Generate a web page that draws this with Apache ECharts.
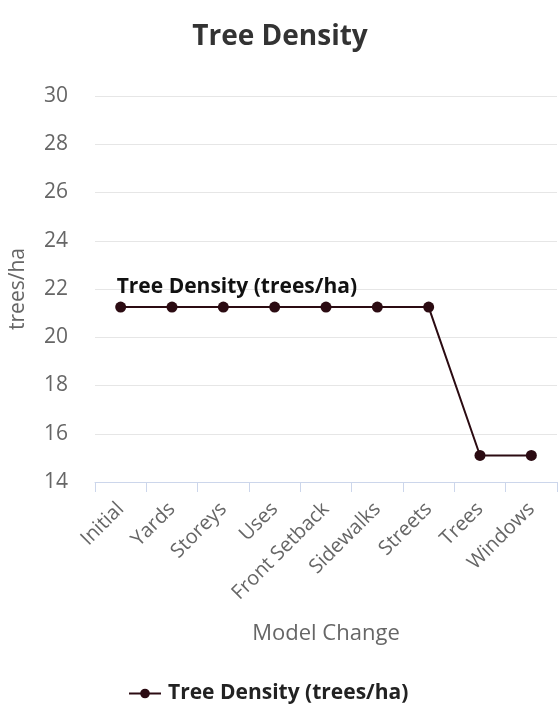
<!DOCTYPE html>
<html>
<head>
<meta charset="utf-8">
<script src="https://cdn.jsdelivr.net/npm/echarts@6/dist/echarts.min.js"></script>
<style>
  html, body { margin: 0; padding: 0; background: #fff; }
  #chart { width: 560px; height: 712px; }
</style>
</head>
<body>
<div id="chart"></div>
<script>
// Model changes along the x axis
const categories = ['Initial', 'Yards', 'Storeys', 'Uses', 'Front Setback', 'Sidewalks', 'Streets', 'Trees', 'Windows'];
// Tree density after each change (trees/ha)
const treeDensity = [21.25, 21.25, 21.25, 21.25, 21.25, 21.25, 21.25, 15.1, 15.1];
const seriesName = 'Tree Density (trees/ha)';
const yMin = 14, yMax = 30, yStep = 2;

const FONT = '"Open Sans", "Noto Sans", sans-serif';
const LINE = '#2b0b12';

const chart = echarts.init(document.getElementById('chart'), null, { renderer: 'canvas' });

// The series name is written once, above the first point
const seriesData = treeDensity.map((v, i) => i === 0 ? {
  value: v,
  label: {
    show: true,
    formatter: seriesName,
    position: 'top',
    align: 'left',
    offset: [-4, 1],
    fontFamily: FONT,
    fontSize: 21,
    fontWeight: 'bold',
    color: '#111'
  }
} : v);

chart.setOption({
  animation: false,
  title: {
    text: 'Tree Density',
    left: 'center',
    top: 18,
    textStyle: { fontFamily: FONT, fontSize: 28, fontWeight: 'bold', color: '#333' }
  },
  legend: {
    bottom: 8,
    left: 128,
    padding: 0,
    itemWidth: 32,
    itemHeight: 12,
    textStyle: { fontFamily: FONT, fontSize: 21, fontWeight: 'bold', color: '#222', padding: [0, 0, 0, 2] },
    data: [seriesName]
  },
  grid: { left: 93, right: 3, top: 96, bottom: 230 },
  xAxis: {
    type: 'category',
    data: categories,
    boundaryGap: true,
    name: 'Model Change',
    nameLocation: 'middle',
    nameGap: 141,
    nameTextStyle: { fontFamily: FONT, fontSize: 22, color: '#666' },
    axisLine: { lineStyle: { color: '#ccd6eb', width: 1 } },
    axisTick: { show: true, length: 10, lineStyle: { color: '#ccd6eb' } },
    axisLabel: { rotate: 45, margin: 24, fontFamily: FONT, fontSize: 20, color: '#666', interval: 0 }
  },
  yAxis: {
    type: 'value',
    min: yMin,
    max: yMax,
    interval: yStep,
    name: 'trees/ha',
    nameLocation: 'middle',
    nameGap: 66,
    nameRotate: 90,
    nameTextStyle: { fontFamily: FONT, fontSize: 21, color: '#666' },
    axisLine: { show: false },
    axisTick: { show: false },
    axisLabel: { margin: 27, fontFamily: FONT, fontSize: 21, color: '#666' },
    splitLine: { lineStyle: { color: '#e6e6e6', width: 1 } }
  },
  series: [{
    name: seriesName,
    type: 'line',
    data: seriesData,
    symbol: 'circle',
    symbolSize: 11,
    itemStyle: { color: LINE },
    lineStyle: { color: LINE, width: 2 }
  }]
});
</script>
</body>
</html>
